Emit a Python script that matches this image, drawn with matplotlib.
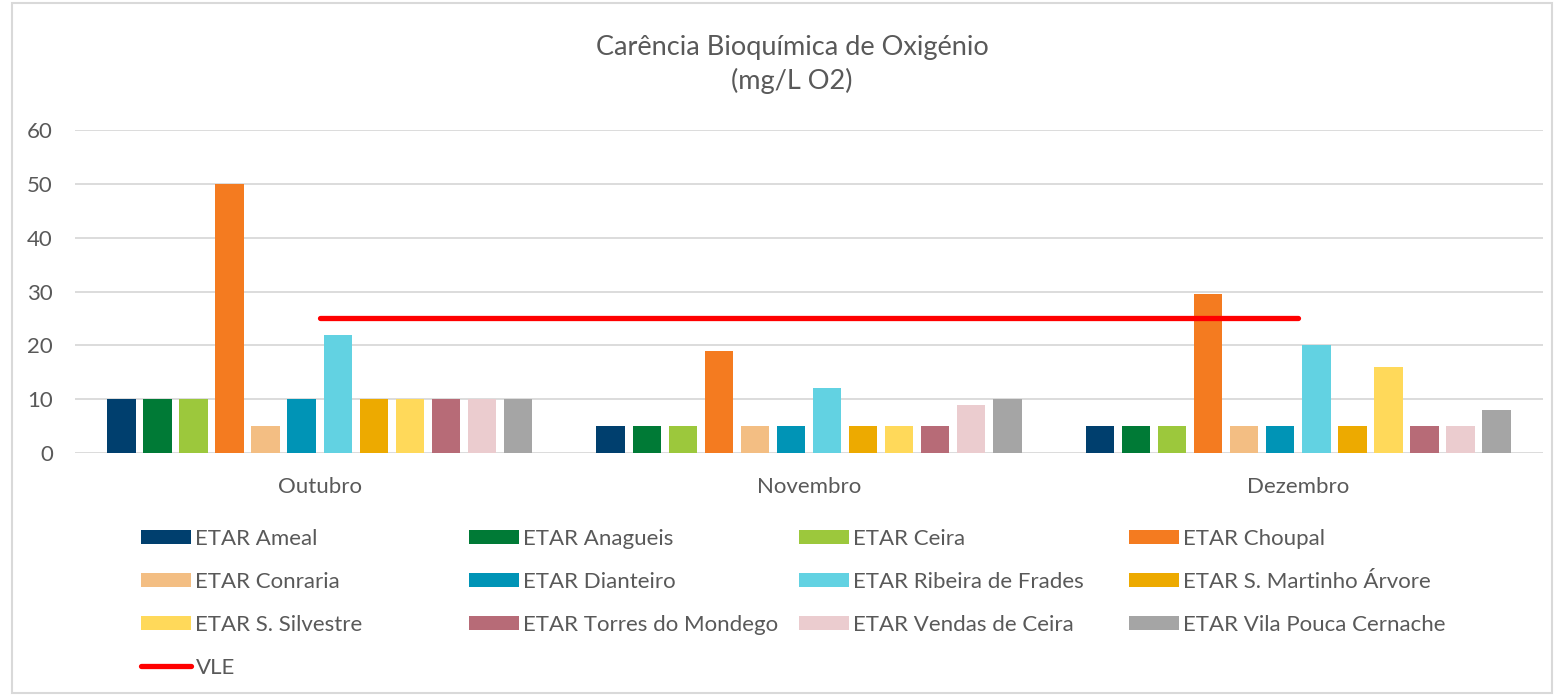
import matplotlib.pyplot as plt
import numpy as np
from matplotlib.patches import FancyBboxPatch

plt.rcParams["font.family"] = ["Lato", "DejaVu Sans"]

months = ["Outubro", "Novembro", "Dezembro"]
stations = [
    "ETAR Ameal", "ETAR Anagueis", "ETAR Ceira", "ETAR Choupal",
    "ETAR Conraria", "ETAR Dianteiro", "ETAR Ribeira de Frades",
    "ETAR S. Martinho Árvore", "ETAR S. Silvestre", "ETAR Torres do Mondego",
    "ETAR Vendas de Ceira", "ETAR Vila Pouca Cernache",
]
values = [
    [10, 5, 5],
    [10, 5, 5],
    [10, 5, 5],
    [50, 19, 29.5],
    [5, 5, 5],
    [10, 5, 5],
    [22, 12, 20],
    [10, 5, 5],
    [10, 5, 16],
    [10, 5, 5],
    [10, 9, 5],
    [10, 10, 8],
]
vle = [25, 25, 25]

colors = ["#003f6e", "#007a36", "#9cc83c", "#f47b20", "#f3be83", "#0094b6",
          "#62d2e2", "#edaa00", "#ffd95a", "#b76b77", "#ebcccf", "#a5a5a5"]
grey = "#595959"

fig = plt.figure(figsize=(15.56, 6.97), dpi=100)
fig.patches.append(FancyBboxPatch((12 / 1556, 4 / 697), 1540 / 1556, 690 / 697,
                                  boxstyle="square,pad=0", transform=fig.transFigure,
                                  fill=False, edgecolor="#d9d9d9", linewidth=1.5))
ax = fig.add_axes([75 / 1556, 1 - 453 / 697, 1468 / 1556, 323 / 697])

x = np.arange(len(months))
pitch = 0.0737
width = 0.058
bars = []
for i, (name, vals) in enumerate(zip(stations, values)):
    b = ax.bar(x + (i - 5.5) * pitch, vals, width, color=colors[i], label=name, zorder=2)
    bars.append(b)
line, = ax.plot(x, vle, color="#ff0000", lw=3.8, solid_capstyle="round", label="VLE", zorder=3)

ax.set_xlim(-0.5, 2.5)
ax.set_ylim(0, 60)
ax.set_yticks(range(0, 61, 10))
ax.set_xticks(x)
ax.set_xticklabels(months)
ax.grid(axis="y", color="#d9d9d9", lw=1.3, zorder=0)
for s in ["top", "right", "left", "bottom"]:
    ax.spines[s].set_visible(False)
ax.tick_params(axis="both", length=0, labelsize=16, colors=grey)
ax.tick_params(axis="y", pad=16)
ax.tick_params(axis="x", pad=17)

fig.text(0.509, 1 - 47 / 697, "Carência Bioquímica de Oxigénio", ha="center", va="center",
         fontsize=19.5, color=grey)
fig.text(0.509, 1 - 81 / 697, "(mg/L O2)", ha="center", va="center", fontsize=19.5, color=grey)

handles = bars + [line]
labels = stations + ["VLE"]
col_x = [141, 469, 799, 1129]
for c in range(4):
    idx = list(range(c, len(handles), 4))
    leg = fig.legend([handles[i] for i in idx], [labels[i] for i in idx],
                     loc="upper left", bbox_to_anchor=(col_x[c] / 1556, 1 - 529 / 697),
                     frameon=False, fontsize=16, handlelength=2.25, handleheight=0.55,
                     handletextpad=0.2, labelspacing=1.03, borderaxespad=0, borderpad=0)
    for t in leg.get_texts():
        t.set_color(grey)

fig.savefig("out.png", dpi=100)
